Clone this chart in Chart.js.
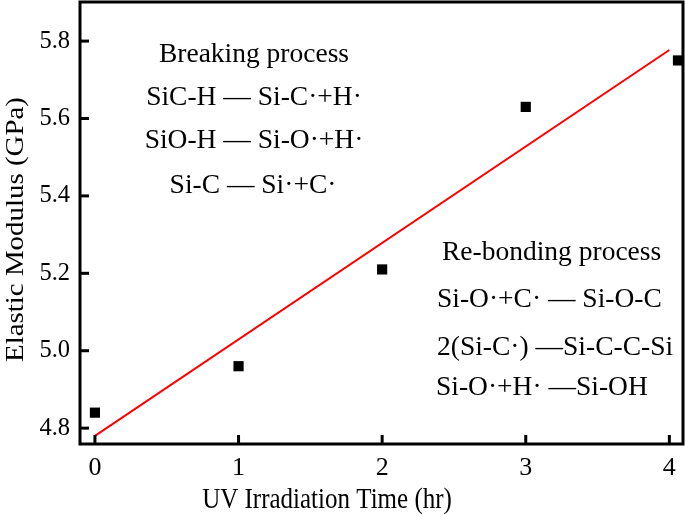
<!DOCTYPE html>
<html><head><meta charset="utf-8">
<script src="https://cdn.jsdelivr.net/npm/chart.js@4"></script>
<style>html,body{margin:0;padding:0;background:#fff;}#wrap{width:685px;height:516px;}</style>
</head><body><div id="wrap"><canvas id="c" width="685" height="516"></canvas></div>
<script>
const timeHr = [0, 1, 2, 3, 4.06];
const modulusGPa = [4.84, 4.96, 5.21, 5.63, 5.75];
const fitX = [0, 4];
const fitY = [4.78, 5.777];
const xTicks = [0, 1, 2, 3, 4];
const yTicks = [4.8, 5.0, 5.2, 5.4, 5.6, 5.8];
const xTitle = 'UV Irradiation Time (hr)';
const yTitle = 'Elastic Modulus (GPa)';
const breakingLines = ['Breaking process', 'SiC-H \u2014 Si-C\u00b7+H\u00b7', 'SiO-H \u2014 Si-O\u00b7+H\u00b7', 'Si-C \u2014 Si\u00b7+C\u00b7'];
const rebondLines = ['Re-bonding process', 'Si-O\u00b7+C\u00b7 \u2014 Si-O-C', '2(Si-C\u00b7) \u2014Si-C-C-Si', 'Si-O\u00b7+H\u00b7 \u2014Si-OH'];

const FONT = '"Liberation Serif", "Times New Roman", serif';

const decor = {
  id: 'decor',
  afterDraw(chart) {
    const ctx = chart.ctx, a = chart.chartArea;
    const xs = chart.scales.x, ys = chart.scales.y;
    ctx.save();
    ctx.strokeStyle = '#000';
    ctx.lineWidth = 3;
    ctx.strokeRect(a.left, a.top, a.right - a.left, a.bottom - a.top);
    xTicks.forEach(v => {
      const p = xs.getPixelForValue(v);
      ctx.beginPath(); ctx.moveTo(p, a.bottom); ctx.lineTo(p, a.bottom - 9); ctx.stroke();
    });
    yTicks.forEach(v => {
      const p = ys.getPixelForValue(v);
      ctx.beginPath(); ctx.moveTo(a.left, p); ctx.lineTo(a.left + 9, p); ctx.stroke();
    });
    ctx.fillStyle = '#000';
    ctx.textBaseline = 'alphabetic';
    ctx.textAlign = 'center';
    ctx.save();
    ctx.translate(327, 508);
    ctx.scale(1, 1.18);
    ctx.font = '25px ' + FONT;
    ctx.fillText(xTitle, 0, 0);
    ctx.restore();
    ctx.save();
    ctx.translate(23, 229.5);
    ctx.rotate(-Math.PI / 2);
    ctx.scale(1.18, 1);
    ctx.font = '24.5px ' + FONT;
    ctx.fillText(yTitle, 0, 0);
    ctx.restore();
    ctx.font = '27.5px ' + FONT;
    const bx = [254, 254, 254, 253], by = [62, 105, 148, 193];
    breakingLines.forEach((t, i) => ctx.fillText(t, bx[i], by[i]));
    ctx.textAlign = 'left';
    const rx = [442, 437, 437, 436], ry = [260, 307, 355, 395];
    rebondLines.forEach((t, i) => ctx.fillText(t, rx[i], ry[i]));
    ctx.restore();
  }
};

new Chart(document.getElementById('c'), {
  type: 'scatter',
  data: {
    datasets: [
      {
        type: 'line',
        data: fitX.map((x, i) => ({x, y: fitY[i]})),
        borderColor: '#ff0000', borderWidth: 2, pointRadius: 0, fill: false, order: 2
      },
      {
        data: timeHr.map((x, i) => ({x, y: modulusGPa[i]})),
        pointStyle: 'rect', pointRadius: 7.2, pointHoverRadius: 7.2,
        backgroundColor: '#000', borderColor: '#000', borderWidth: 0, order: 1
      }
    ]
  },
  options: {
    responsive: false, animation: false, devicePixelRatio: 1,
    layout: {autoPadding: false, padding: {top: 2, right: 2, left: 0, bottom: 0}},
    plugins: {legend: {display: false}, tooltip: {enabled: false}},
    scales: {
      x: {
        type: 'linear', min: -0.104, max: 4.095,
        afterBuildTicks: s => { s.ticks = xTicks.map(v => ({value: v})); },
        afterFit: s => { s.height = 72; s.paddingLeft = 0; s.paddingRight = 0; },
        grid: {display: false, drawTicks: false},
        border: {display: false},
        ticks: {color: '#000', padding: 9, maxRotation: 0, font: {family: FONT, size: 26}, callback: v => String(v)}
      },
      y: {
        type: 'linear', min: 4.759, max: 5.901,
        afterBuildTicks: s => { s.ticks = yTicks.map(v => ({value: v})); },
        afterFit: s => { s.width = 80; s.paddingTop = 0; s.paddingBottom = 0; },
        grid: {display: false, drawTicks: false},
        border: {display: false},
        ticks: {color: '#000', padding: 10, font: {family: FONT, size: 24.5}, callback: v => Number(v).toFixed(1)}
      }
    }
  },
  plugins: [decor]
});
</script>
</body></html>
